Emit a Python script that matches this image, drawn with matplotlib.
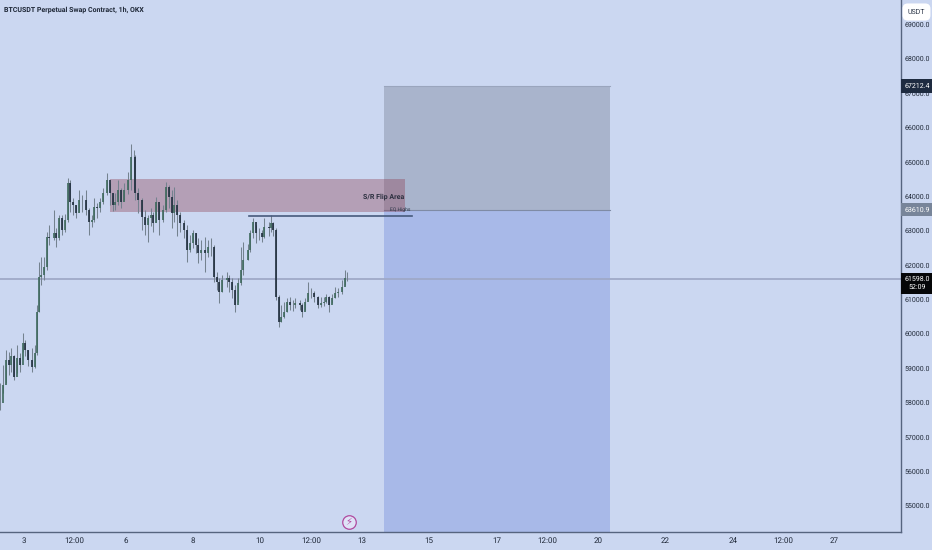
import numpy as np
import matplotlib
matplotlib.use("Agg")
import matplotlib.pyplot as plt

# hours counted from midnight of day 3
bar_hours = [-17, -15, -13, -11, -9, -7, -5, -3, -1, 1, 3, 6, 8, 9, 11, 12, 14, 16, 18, 21, 23, 25, 27, 29, 31,
             33, 35, 37, 39, 41, 44, 46, 48, 50, 52, 54, 56, 59, 61, 63, 65, 67, 69, 71, 74, 76, 78, 79, 81, 84,
             86, 88, 90, 92, 94, 96, 99, 101, 103, 105, 107, 109, 111, 114, 116, 118, 120, 122, 124, 126, 129,
             131, 133, 135, 137, 139, 141, 144, 146, 148, 150, 152, 154, 156, 159, 161, 163, 165, 167, 169, 171,
             174, 176, 177, 179, 181, 183, 185, 187, 189, 191, 193, 196, 198, 200, 202, 204, 206, 209, 211, 213,
             215, 217, 219, 221, 223, 226, 228, 230]
closes = [57990, 58520, 59240, 59100, 59360, 58750, 59300, 59100, 59740, 59530, 59240, 59040, 59450, 60640, 61660,
          61720, 61950, 62820, 62790, 62940, 62790, 63370, 63020, 63310, 64390, 63840, 63750, 63520, 63900, 63900,
          63600, 63260, 63310, 63690, 63660, 63840, 64100, 64480, 64100, 63750, 63840, 64190, 63840, 64190, 64480,
          65150, 65150, 64100, 63900, 63400, 63170, 63370, 63460, 63230, 63840, 63310, 63600, 64270, 63980, 63520,
          63750, 63460, 63230, 63020, 62440, 62650, 62940, 62590, 62350, 62440, 62350, 62530, 62530, 61660, 61510,
          61220, 61570, 61630, 61510, 61280, 60840, 61480, 61860, 62150, 62440, 62940, 63260, 62940, 62940, 62820,
          63110, 63080, 63230, 63020, 61080, 60350, 60490, 60640, 60930, 60840, 60840, 60900, 60840, 60640, 60930,
          61190, 61190, 61080, 60840, 60900, 60930, 61080, 60840, 61050, 61190, 61220, 61370, 61630, 61630]
highs = [58580, 59100, 59530, 59480, 59590, 59390, 59680, 59450, 60030, 59830, 59530, 59590, 59680, 60840, 62090,
         62240, 62240, 62970, 63170, 63600, 63080, 63460, 63460, 63490, 64530, 64480, 63950, 63750, 64190, 64040,
         64190, 63660, 63460, 63950, 63810, 63950, 64240, 64680, 64390, 64100, 64100, 64480, 64240, 64390, 64710,
         65520, 65350, 65200, 64240, 63950, 63600, 63460, 63660, 63550, 63980, 63750, 63750, 64420, 64330, 64190,
         64270, 63900, 63550, 63310, 63170, 62880, 63020, 62940, 62790, 62730, 62820, 62730, 62790, 62590, 61800,
         61630, 61720, 61800, 61720, 61630, 61420, 61630, 62530, 62670, 62620, 63020, 63370, 63170, 63080, 63020,
         63370, 63260, 63460, 63260, 63080, 61130, 60840, 60930, 61050, 61080, 60990, 61050, 60990, 60900, 61050,
         61510, 61340, 61250, 61100, 61080, 61080, 61160, 61100, 61160, 61370, 61340, 61570, 61860, 61800]
lows = [57790, 58280, 58580, 58810, 58900, 58660, 58870, 58900, 59480, 59360, 59070, 58900, 59010, 59390, 60640,
        61420, 61570, 61860, 62590, 62730, 62530, 62730, 62880, 62970, 63260, 63550, 63460, 63370, 63550, 63550,
        63460, 62880, 63110, 63260, 63370, 63550, 63780, 64040, 63750, 63570, 63600, 63750, 63660, 63900, 64070,
        64190, 64190, 63900, 63520, 63020, 62880, 62670, 63140, 62970, 63260, 62880, 63260, 63550, 63660, 63080,
        63260, 62850, 62970, 62790, 62090, 62380, 62500, 62350, 62060, 62150, 61800, 62240, 62270, 61510, 61280,
        60900, 61220, 61370, 61220, 61050, 60640, 60930, 61420, 61720, 62150, 62380, 62790, 62650, 62730, 62670,
        62790, 62850, 62970, 62850, 60990, 60200, 60350, 60470, 60640, 60700, 60670, 60750, 60700, 60490, 60700,
        60990, 61050, 60930, 60760, 60780, 60810, 60900, 60640, 60900, 61050, 61080, 61160, 61420, 61540]
first_open = 58000

price_ticks = [55000, 56000, 57000, 58000, 59000, 60000, 61000, 62000, 63000, 64000, 65000, 66000, 67000, 68000, 69000]
x_tick_days = [3, 4.5, 6, 8, 10, 11.5, 13, 15, 17, 18.5, 20, 22, 24, 25.5, 27]
x_tick_labels = ["3", "12:00", "6", "8", "10", "12:00", "13", "15", "17", "12:00", "20", "22", "24", "12:00", "27"]

zone_days = (5.55, 14.3)
zone_prices = (63546, 64505)
position_days = (13.68, 20.35)
entry_price = 63610.9
target_price = 67212.4
last_price = 61598.0
eq_days = (9.68, 14.5)
eq_price = 63430

BG = "#cbd7f1"
AXIS = "#56647f"
FONT = ["Liberation Sans Narrow", "Roboto", "DejaVu Sans"]

plt.rcParams["font.family"] = FONT
plt.rcParams["text.hinting"] = "no_hinting"
plt.rcParams["text.hinting_factor"] = 1

fig = plt.figure(figsize=(9.32, 5.5), dpi=100, facecolor=BG)
ax = fig.add_axes([0, 18.5 / 550, 901 / 932, 531.5 / 550], facecolor=BG)
ax.set_xlim(3 - 24 / 33.75, 3 + 877 / 33.75)
ax.set_ylim(54250, 69709)

for side in ("top", "left"):
    ax.spines[side].set_visible(False)
for side in ("right", "bottom"):
    ax.spines[side].set_color(AXIS)
    ax.spines[side].set_linewidth(1.0)

ax.yaxis.tick_right()
ax.set_yticks(price_ticks)
ax.set_yticklabels([f"{p:.1f}" for p in price_ticks])
ax.set_xticks(x_tick_days)
ax.set_xticklabels(x_tick_labels)
ax.tick_params(axis="y", length=0, labelsize=5.0, labelcolor="#1f2838", pad=2.5)
ax.tick_params(axis="x", length=0, labelsize=5.6, labelcolor="#1f2838", pad=4)

# trade boxes first, candles sit on top
ax.fill_between(position_days, entry_price, target_price, color="#a9b4cc", lw=0, zorder=1)
ax.fill_between(position_days, 54250, entry_price, color="#a8b9e8", lw=0, zorder=1)
ax.plot(position_days, [target_price, target_price], color="#9aa5bd", lw=0.8, zorder=1.5)
ax.plot(position_days, [entry_price, entry_price], color="#7f8ba5", lw=0.8, zorder=1.5)
ax.fill_between(zone_days, zone_prices[0], zone_prices[1], color="#8c3c50", alpha=0.36, lw=0, zorder=2)

ax.axhline(last_price, color="#9fa9c8", lw=1.3, zorder=2)

days = 3 + np.array(bar_hours) / 24
closes = np.array(closes)
opens = np.r_[first_open, closes[:-1]]
up = closes >= opens
ax.vlines(days, lows, highs, color="#74828f", lw=0.75, zorder=3)
ax.vlines(days[up], opens[up], closes[up], color="#3d685c", lw=1.2, zorder=4)
ax.vlines(days[~up], closes[~up], opens[~up], color="#1e2c3c", lw=1.2, zorder=4)

ax.plot(eq_days, [eq_price, eq_price], color="#46597c", lw=1.2, zorder=5)
ax.text(13.66, 64000, "S/R Flip Area", fontsize=4.9, fontweight="bold", color="#2c3040",
        ha="center", va="center", zorder=6)
ax.text(14.15, 63610, "EQ Highs", fontsize=3.8, color="#2c3648", ha="center", va="center", zorder=6)

# lightning badge above the axis
ax.scatter([12.63], [54530], s=95, facecolor="#dfe3f7", edgecolor="#b04a9f", lw=0.9, zorder=6)
ax.text(12.63, 54530, "\u26a1", fontsize=7, color="#b04a9f", family="DejaVu Sans",
        ha="center", va="center", zorder=7)

fig.text(4 / 932, 1 - 10 / 550, "BTCUSDT Perpetual Swap Contract, 1h, OKX", fontsize=4.8, fontweight="bold",
         color="#1f2838", ha="left", va="center")


def price_tag(price, text, face, color="white"):
    # tags overlap the axis strip, so keep them off the clip
    ax.annotate(text, xy=(1, price), xycoords=("axes fraction", "data"), xytext=(16, 0),
                textcoords="offset pixels", fontsize=5.0, color=color, ha="center", va="center",
                annotation_clip=False, zorder=9,
                bbox=dict(boxstyle="square,pad=0.5", facecolor=face, edgecolor="none"))


price_tag(target_price, f"{target_price:.1f}", "#1e2b40")
price_tag(entry_price, f"{entry_price:.1f}", "#78859a")
price_tag(last_price - 130, f"{last_price:.1f}\n52:09", "#050608")

fig.text(916.5 / 932, 1 - 12 / 550, "USDT", fontsize=5.0, color="#2c3648", ha="center", va="center",
         bbox=dict(boxstyle="round,pad=0.75", facecolor="white", edgecolor="none"))

fig.savefig("out.png", dpi=100, facecolor=BG)
